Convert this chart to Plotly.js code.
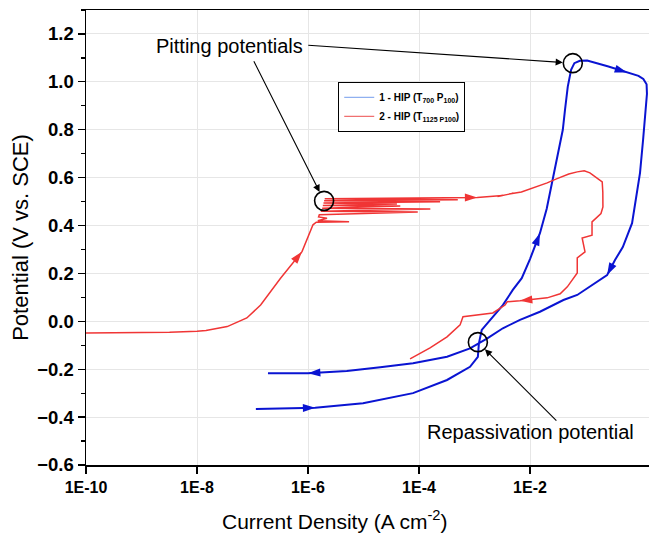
<!DOCTYPE html>
<html>
<head>
<meta charset="utf-8">
<script src="https://cdn.plot.ly/plotly-3.0.1.min.js"></script>
<style>html,body{margin:0;padding:0;background:#fff;overflow:hidden}#chart{width:649px;height:543px}</style>
</head>
<body>
<div id="chart"></div>
<script>
// Series 2 - HIP (T1125 P100): current density (A cm^-2) and potential (V vs. SCE)
var redI = [1e-10,1e-9,3.2e-9,1e-8,1.45e-8,3.5e-8,7.9e-8,1.4e-7,3.2e-7,7.8e-7,1.23e-6,1.41e-6,
  5.5e-6,1.5e-6,2.2e-6,1.55e-6,1.6e-6,9.5e-5,1.7e-6,1.6e-4,1.8e-6,4.6e-5,1.85e-6,4.0e-5,1.9e-6,2.4e-4,1.95e-6,5.0e-4,2.0e-6,
  1.12e-3,2.0e-3,3.2e-3,2.6e-3,4.0e-3,5.0e-3,4.2e-3,7.0e-3,1.0e-2,1.5e-2,2.04e-2,3.0e-2,5.0e-2,7.1e-2,0.095,0.12,0.16,0.2,
  0.205,0.206,0.19,0.131,0.131,0.087,0.098,0.071,0.071,0.047,0.035,0.0204,6.6e-3,3.9e-3,3.55e-3,2.57e-3,2.14e-3,6.2e-4,5.5e-4,3.2e-4,1.58e-4,6.9e-5];
var redE = [-0.049,-0.048,-0.046,-0.042,-0.038,-0.022,0.014,0.068,0.18,0.291,0.403,0.414,
  0.416,0.42,0.43,0.436,0.445,0.457,0.46,0.469,0.472,0.482,0.484,0.49,0.494,0.499,0.503,0.508,0.512,
  0.517,0.52,0.525,0.521,0.53,0.535,0.532,0.54,0.552,0.565,0.578,0.595,0.615,0.624,0.629,0.62,0.6,0.582,
  0.54,0.478,0.45,0.415,0.36,0.348,0.29,0.265,0.202,0.144,0.115,0.098,0.086,0.082,0.068,0.047,0.035,0.019,-0.015,-0.065,-0.111,-0.157];
var redArrowIdx = [9, 29, 59];

// Series 1 - HIP (T700 P100)
var blueI = [1.15e-7,1.35e-6,9.8e-6,7.8e-5,3.2e-4,8.3e-4,1.15e-3,1.2e-3,1.35e-3,2.14e-3,3.24e-3,4.9e-3,7.1e-3,1.0e-2,
  1.51e-2,2.0e-2,2.5e-2,3.0e-2,3.47e-2,3.9e-2,4.27e-2,4.5e-2,4.79e-2,5.5e-2,6.3e-2,7.9e-2,0.107,0.25,
  0.56,0.9,1.1,1.26,1.28,1.22,1.13,1.09,0.96,0.85,0.69,0.47,0.34,
  0.245,0.136,0.071,0.04,1.51e-2,6.6e-3,3.24e-3,1.7e-3,8.3e-4,3.2e-4,7.8e-5,2.0e-5,5.0e-6,1.0e-6,1.9e-7];
var blueE = [-0.366,-0.361,-0.342,-0.30,-0.245,-0.19,-0.148,-0.092,-0.036,0.02,0.068,0.131,0.18,0.26,
  0.368,0.47,0.577,0.66,0.73,0.80,0.883,0.93,0.98,1.05,1.078,1.088,1.089,1.065,
  1.039,1.025,1.012,0.99,0.95,0.88,0.787,0.758,0.62,0.536,0.41,0.31,0.256,
  0.193,0.152,0.11,0.089,0.04,0.006,-0.029,-0.071,-0.113,-0.148,-0.175,-0.192,-0.207,-0.217,-0.217];
var blueArrowIdx = [1, 14, 28, 41, 54];

// Marked potentials
var pitI = [1.95e-6, 5.9e-2];
var pitE = [0.503, 1.078];
var repI = [1.15e-3];
var repE = [-0.087];

var xTickVals = [1e-10, 1e-8, 1e-6, 1e-4, 1e-2];
var xTickText = ['1E-10', '1E-8', '1E-6', '1E-4', '1E-2'];
var legendNames = ['1 - HIP (T<sub>700</sub> P<sub>100</sub>)', '2 - HIP (T<sub>1125 P100</sub>)'];

var W = 649, H = 543, ML = 86, MR = 0, MT = 10, MB = 78;
var XR = [-10, 0.144], YR = [-0.6, 1.3];
var pxDec = (W - ML - MR) / (XR[1] - XR[0]);
var pxV = (H - MT - MB) / (YR[1] - YR[0]);

// arrowheads placed on the curve points, rotated along the direction of travel
function arrowTrace(xs, ys, idx, color) {
  var ax = [], ay = [], ang = [];
  idx.forEach(function (i) {
    var dx = (Math.log10(xs[i]) - Math.log10(xs[i - 1])) * pxDec;
    var dy = -(ys[i] - ys[i - 1]) * pxV;
    ax.push(xs[i]); ay.push(ys[i]);
    ang.push(Math.atan2(dx, -dy) * 180 / Math.PI);
  });
  return {x: ax, y: ay, mode: 'markers', showlegend: false, hoverinfo: 'skip',
    marker: {symbol: 'arrow', size: 13, angle: ang, color: color, line: {width: 0}}};
}

var BLUE = '#0a14d2', RED = '#f03535';
var traces = [
  {x: blueI, y: blueE, mode: 'lines', showlegend: false, line: {color: BLUE, width: 2}},
  {x: redI, y: redE, mode: 'lines', showlegend: false, line: {color: RED, width: 1.5}},
  arrowTrace(blueI, blueE, blueArrowIdx, BLUE),
  arrowTrace(redI, redE, redArrowIdx, RED),
  {x: pitI, y: pitE, mode: 'markers', showlegend: false,
   marker: {symbol: 'circle-open', size: 19, color: '#000', line: {width: 1.6, color: '#000'}}},
  {x: repI, y: repE, mode: 'markers', showlegend: false,
   marker: {symbol: 'circle-open', size: 19, color: '#000', line: {width: 1.6, color: '#000'}}},
  {x: [null], y: [null], mode: 'lines', name: legendNames[0], line: {color: '#8fb0f0', width: 1.2}},
  {x: [null], y: [null], mode: 'lines', name: legendNames[1], line: {color: '#f07070', width: 1.2}}
];

var F = 'Arial, "Liberation Sans", sans-serif';
var layout = {
  width: W, height: H,
  margin: {l: ML, r: MR, t: MT, b: MB},
  paper_bgcolor: '#fff', plot_bgcolor: '#fff',
  font: {family: F, color: '#000'},
  xaxis: {
    type: 'log', range: XR,
    tickvals: xTickVals, ticktext: xTickText,
    tickfont: {size: 16, family: F, weight: 'bold'},
    ticks: 'outside', ticklen: 7, tickwidth: 1.3, tickcolor: '#000',
    showline: true, linewidth: 1.5, linecolor: '#000', mirror: true,
    showgrid: true, gridcolor: '#e6e6e6', gridwidth: 1
  },
  yaxis: {
    range: YR, dtick: 0.2, tick0: 0, tickformat: '.1f',
    tickfont: {size: 18.5, family: F, weight: 'bold'},
    ticks: 'outside', ticklen: 7, tickwidth: 1.3, tickcolor: '#000',
    minor: {dtick: 0.1, ticks: 'outside', ticklen: 4, tickcolor: '#000', showgrid: false},
    showline: true, linewidth: 1.5, linecolor: '#000', mirror: false,
    zeroline: false,
    showgrid: true, gridcolor: '#e6e6e6', gridwidth: 1,
    title: {text: 'Potential (V vs. SCE)', font: {size: 22, family: F}, standoff: 2}
  },
  legend: {
    x: 0.448, y: 0.842, xanchor: 'left', yanchor: 'top',
    bordercolor: '#000', borderwidth: 1, bgcolor: '#fff',
    font: {size: 10, family: F, weight: 'bold'},
    tracegroupgap: 0, itemwidth: 30
  },
  annotations: [
    {xref: 'paper', yref: 'paper', x: 0.442, y: -0.121, text: 'Current Density (A cm<sup>-2</sup>)', showarrow: false,
     font: {size: 21, family: F}, xanchor: 'center', yanchor: 'middle'},
    {xref: 'paper', yref: 'paper', x: 0.254, y: 0.921, text: 'Pitting potentials', showarrow: false,
     font: {size: 20, family: F}, xanchor: 'center', yanchor: 'middle'},
    {xref: 'paper', yref: 'paper', x: 0.789, y: 0.0725, text: 'Repassivation potential', showarrow: false,
     font: {size: 20, family: F}, xanchor: 'center', yanchor: 'middle'},
    {x: Math.log10(pitI[1]), y: pitE[1], text: '', showarrow: true, arrowhead: 2, arrowsize: 1.3, arrowwidth: 1.1,
     arrowcolor: '#000', ax: -266, ay: -18, standoff: 10},
    {x: Math.log10(pitI[0]), y: pitE[0], text: '', showarrow: true, arrowhead: 2, arrowsize: 1.3, arrowwidth: 1.1,
     arrowcolor: '#000', ax: -71, ay: -141, standoff: 10},
    {x: Math.log10(repI[0]), y: repE[0], text: '', showarrow: true, arrowhead: 2, arrowsize: 1.3, arrowwidth: 1.1,
     arrowcolor: '#000', ax: 80, ay: 80, standoff: 10}
  ]
};

Plotly.newPlot('chart', traces, layout, {displayModeBar: false, staticPlot: true});
</script>
</body>
</html>
